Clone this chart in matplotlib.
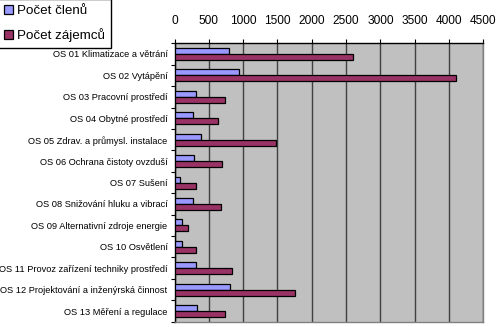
import matplotlib
matplotlib.use('Agg')
import matplotlib.pyplot as plt
import numpy as np

plt.rcParams['font.family'] = ['Liberation Sans', 'DejaVu Sans']

# Odborné sekce a počty
sekce = [
    "OS 01 Klimatizace a větrání",
    "OS 02 Vytápění",
    "OS 03 Pracovní prostředí",
    "OS 04 Obytné prostředí",
    "OS 05 Zdrav. a průmysl. instalace",
    "OS 06 Ochrana čistoty ovzduší",
    "OS 07 Sušení",
    "OS 08 Snižování hluku a vibrací",
    "OS 09 Alternativní zdroje energie",
    "OS 10 Osvětlení",
    "OS 11 Provoz zařízení techniky prostředí",
    "OS 12 Projektování a inženýrská činnost",
    "OS 13 Měření a regulace",
]
pocet_clenu = [796, 933, 310, 272, 393, 286, 77, 272, 111, 102, 315, 802, 330]
pocet_zajemcu = [2603, 4100, 738, 627, 1472, 685, 315, 680, 199, 315, 831, 1758, 738]
x_ticks = [0, 500, 1000, 1500, 2000, 2500, 3000, 3500, 4000, 4500]

fig = plt.figure(figsize=(5, 3.27), dpi=100)
ax = fig.add_axes([0.349, 0.016, 0.6177, 0.8517])
ax.set_facecolor('#C0C0C0')

y = np.arange(len(sekce))
h = 0.28
ax.barh(y - 0.14, pocet_clenu, height=h, color='#9999FF', edgecolor='black',
        linewidth=0.9, label='Počet členů', zorder=3)
ax.barh(y + 0.14, pocet_zajemcu, height=h, color='#993366', edgecolor='black',
        linewidth=0.9, label='Počet zájemců', zorder=3)

ax.set_xlim(0, 4500)
ax.set_ylim(len(sekce) - 0.5, -0.5)
ax.set_xticks(x_ticks)
ax.xaxis.tick_top()
ax.tick_params(axis='x', length=3, pad=9, labelsize=8.6, width=0.8)
ax.grid(axis='x', color='#404040', linewidth=1.0, zorder=1)

# ticks between categories on the left axis
ax.set_yticks(np.arange(len(sekce) + 1) - 0.5, minor=True)
ax.set_yticks(y)
ax.set_yticklabels(sekce, fontsize=6.7)
ax.tick_params(axis='y', which='major', length=0, pad=5)
ax.tick_params(axis='y', which='minor', length=3, width=0.8)

for s in ax.spines.values():
    s.set_linewidth(1.0)
    s.set_color('black')
ax.spines['right'].set_color('#808080')
ax.spines['bottom'].set_color('#808080')

fig.legend(loc='upper left', bbox_to_anchor=(-0.004, 1.004), borderaxespad=0,
           fontsize=9.6, frameon=True, fancybox=False, edgecolor='black',
           framealpha=1, handlelength=0.7, handleheight=0.7, handletextpad=0.3,
           labelspacing=0.85, borderpad=0.45)

fig.savefig('out.png', dpi=100)
